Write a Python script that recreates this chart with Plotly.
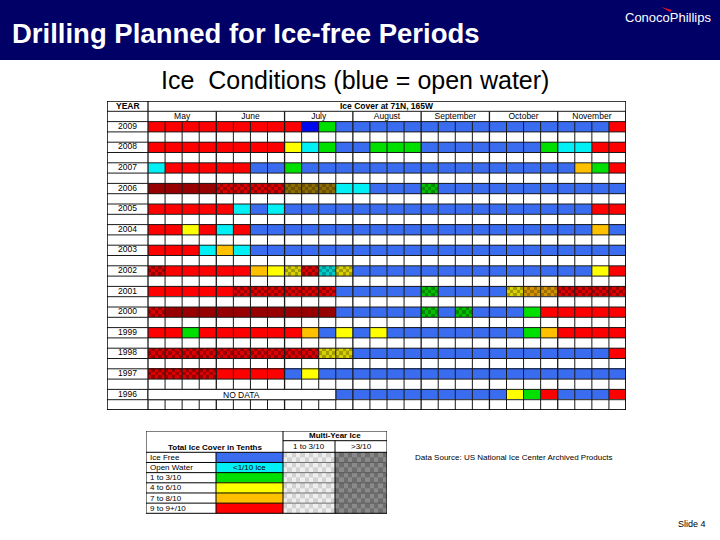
import plotly.graph_objects as go

# ---------------- data ----------------
years = ["2009", "2008", "2007", "2006", "2005", "2004", "2003",
         "2002", "2001", "2000", "1999", "1998", "1997", "1996"]
months = ["May", "June", "July", "August", "September", "October", "November"]
weeks_per_month = 4


def weeks(s):
    return s.replace("|", " ").split()


# weekly ice-cover codes, May week 1 ... November week 4 (one group per month)
cover_2009 = weeks("R R R R | R R R R | R N G B | B B B B | B B B B | B B B B | B B B R")
cover_2008 = weeks("R R R R | R R R R | Y C G B | B G G G | B B B B | B B B G | C C R R")
cover_2007 = weeks("C R R R | R R B B | G B B B | B B B B | B B B B | B B B B | B O G R")
cover_2006 = weeks("DR DR DR DR | RX RX RX RX | OXD OXD OXD C | C B B B | GX B B B | B B B B | B B B B")
cover_2005 = weeks("R R R R | R C B C | B B B B | B B B B | B B B B | B B B B | B B R R")
cover_2004 = weeks("R R Y R | C R B B | B B B B | B B B B | B B B B | B B B B | B B O B")
cover_2003 = weeks("R R R C | O C B B | B B B B | B B B B | B B B B | B B B B | B B B B")
cover_2002 = weeks("RX R R R | R R O Y | YX RX CX YX | B B B B | B B B B | B B B B | B B Y R")
cover_2001 = weeks("R R R R | R RX RX RX | RX RX RX B | B B B B | GX B B B | B YX OX OX | RX RX RX RX")
cover_2000 = weeks("RX DR DR DR | DR DR DR DR | DR DR DR B | B B B B | GX B GX B | B B G R | R R R R")
cover_1999 = weeks("R R G R | R R R R | R O B Y | B Y B B | B B B B | B B G O | R R R R")
cover_1998 = weeks("RX RX RX RX | RX RX RX RX | RX RX YX YX | B B B B | B B B B | B B B B | B B B R")
cover_1997 = weeks("RX RX RX RX | R R R R | B Y B B | B B B B | B B B B | B B B B | B B B B")
cover_1996 = weeks("ND ND ND ND | ND ND ND ND | ND ND ND B | B B B B | B B B B | B Y G R | B B B R")

cover_by_year = [cover_2009, cover_2008, cover_2007, cover_2006, cover_2005,
                 cover_2004, cover_2003, cover_2002, cover_2001, cover_2000,
                 cover_1999, cover_1998, cover_1997, cover_1996]

legend_labels = ["Ice Free", "Open Water", "1 to 3/10", "4 to 6/10", "7 to 8/10", "9 to 9+/10"]
legend_codes = ["B", "C", "G", "Y", "O", "R"]
multi_year_labels = ["1 to 3/10", ">3/10"]

# ---------------- styling ----------------
COLORS = {
    "B": ("#3a6cf0", "#3a6cf0"),
    "N": ("#0008ee", "#0008ee"),
    "C": ("#00f0f5", "#00f0f5"),
    "G": ("#00e000", "#00e000"),
    "Y": ("#ffff00", "#ffff00"),
    "O": ("#ffc000", "#ffc000"),
    "R": ("#ff0000", "#ff0000"),
    "DR": ("#960000", "#960000"),
    "RX": ("#dd0000", "#9a0000"),
    "OXD": ("#8c6c00", "#6c5200"),
    "OX": ("#d09400", "#a06e00"),
    "YX": ("#d8d000", "#a09c00"),
    "GX": ("#00c000", "#008a00"),
    "CX": ("#00cccc", "#009a9a"),
    "ND": ("#ffffff", "#ffffff"),
    "W": ("#ffffff", "#ffffff"),
    "MY1": ("#d2d2d2", "#efefef"),
    "MY2": ("#8a8a8a", "#6e6e6e"),
}
palette = []
for a, b in COLORS.values():
    for c in (a, b):
        if c not in palette:
            palette.append(c)
pidx = {c: i for i, c in enumerate(palette)}
NPAL = len(palette)
colorscale = []
for i, c in enumerate(palette):
    colorscale.append([i / NPAL, c])
    colorscale.append([(i + 1) / NPAL, c])

FONT = "Arial, 'Liberation Sans', sans-serif"
W, H = 720, 540

# ---------------- main grid heatmap ----------------
NX, NY = 5, 3
n_weeks = len(months) * weeks_per_month
n_rows = 2 * len(years)
x_edges = [k + j / NX for k in range(n_weeks) for j in range(NX)] + [n_weeks]
y_edges = [m / NY for m in range(n_rows * NY + 1)]
z = []
for fy in range(n_rows * NY):
    sub = fy // NY
    row = []
    for fx in range(n_weeks * NX):
        if sub % 2 == 1:
            c = COLORS["W"][0]
        else:
            yr = cover_by_year[sub // 2]
            code = yr[fx // NX] if fx // NX < len(yr) else "W"
            a, b = COLORS[code]
            c = a if (fx + fy) % 2 == 0 else b
        row.append(pidx[c] + 0.5)
    z.append(row)

fig = go.Figure()
fig.add_trace(go.Heatmap(x=x_edges, y=y_edges, z=z, colorscale=colorscale,
                         zmin=0, zmax=NPAL, showscale=False, hoverinfo="skip",
                         xaxis="x", yaxis="y"))

# year labels and month labels
year_col_w = 41 / (478 / n_weeks)
fig.add_trace(go.Scatter(x=[-year_col_w / 2] * len(years),
                         y=[2 * i + 0.5 for i in range(len(years))],
                         text=years, mode="text",
                         textfont=dict(family=FONT, size=8.5, color="black"),
                         hoverinfo="skip", xaxis="x", yaxis="y"))
fig.add_trace(go.Scatter(x=[weeks_per_month * m + weeks_per_month / 2 for m in range(len(months))],
                         y=[-0.45] * len(months), text=months, mode="text",
                         textfont=dict(family=FONT, size=8.5, color="black"),
                         hoverinfo="skip", xaxis="x", yaxis="y"))

# ---------------- legend heatmap ----------------
LX = [146, 216, 283, 335, 387]
LY_TOP, LY_MID, LY_BODY, LY_BOT = 431, 440.7, 452.3, 513.3
CHK = 12
cw = (LX[3] - LX[2]) / CHK
lx_edges = [LX[1]] + [LX[2] + j * cw for j in range(CHK + 1)] + [LX[3] + j * cw for j in range(1, CHK + 1)]
row_h = (LY_BOT - LY_BODY) / len(legend_codes)
ly_edges = [LY_BODY + m * row_h / 2 for m in range(2 * len(legend_codes) + 1)]
lz = []
for fy in range(2 * len(legend_codes)):
    code = legend_codes[fy // 2]
    row = [pidx[COLORS[code][0]] + 0.5]
    for fx in range(CHK):
        a, b = COLORS["MY1"]
        row.append(pidx[a if (fx + fy) % 2 == 0 else b] + 0.5)
    for fx in range(CHK):
        a, b = COLORS["MY2"]
        row.append(pidx[a if (fx + fy) % 2 == 0 else b] + 0.5)
    lz.append(row)
fig.add_trace(go.Heatmap(x=lx_edges, y=ly_edges, z=lz, colorscale=colorscale,
                         zmin=0, zmax=NPAL, showscale=False, hoverinfo="skip",
                         xaxis="x2", yaxis="y2"))

# ---------------- shapes ----------------
shapes = []
shapes.append(dict(type="rect", xref="paper", yref="paper", x0=0, x1=1,
                   y0=1 - 60 / H, y1=1, fillcolor="#000066", line=dict(width=0)))
shapes.append(dict(type="path", xref="paper", yref="paper",
                   path=f"M {661/W},{1-7/H} L {672/W},{1-10/H} L {676/W},{1-6/H} L {670/W},{1-12/H} Z",
                   fillcolor="#e0102a", line=dict(width=0)))

LINE = "#1a1a1a"
x_left = -year_col_w
for r in range(n_rows + 1):
    shapes.append(dict(type="line", xref="x", yref="y", x0=x_left, x1=n_weeks,
                       y0=r, y1=r, line=dict(color=LINE, width=1)))
shapes.append(dict(type="line", xref="x", yref="y", x0=x_left, x1=n_weeks,
                   y0=-1, y1=-1, line=dict(color=LINE, width=1)))
for k in range(n_weeks + 1):
    top = -1 if k % weeks_per_month == 0 else 0
    if k == 0:
        top = -2
    shapes.append(dict(type="line", xref="x", yref="y", x0=k, x1=k, y0=top, y1=n_rows,
                       line=dict(color=LINE, width=1.3 if k % weeks_per_month == 0 else 1)))
nd_count = cover_1996.count("ND")
nd_row = 2 * years.index("1996")
shapes.append(dict(type="rect", xref="x", yref="y", x0=0, x1=nd_count, y0=nd_row, y1=nd_row + 1,
                   fillcolor="white", line=dict(color=LINE, width=1)))
shapes.append(dict(type="rect", xref="x", yref="y", x0=x_left, x1=n_weeks, y0=-2, y1=n_rows,
                   line=dict(color="black", width=1.5)))

L = dict(color="black", width=1)
shapes.append(dict(type="rect", xref="x2", yref="y2", x0=LX[0], x1=LX[4], y0=LY_TOP, y1=LY_BOT, line=L))
shapes.append(dict(type="line", xref="x2", yref="y2", x0=LX[2], x1=LX[4], y0=LY_MID, y1=LY_MID, line=L))
shapes.append(dict(type="line", xref="x2", yref="y2", x0=LX[0], x1=LX[4], y0=LY_BODY, y1=LY_BODY, line=L))
for r in range(1, len(legend_codes)):
    yy = LY_BODY + r * row_h
    shapes.append(dict(type="line", xref="x2", yref="y2", x0=LX[0], x1=LX[2], y0=yy, y1=yy, line=L))
    shapes.append(dict(type="line", xref="x2", yref="y2", x0=LX[2], x1=LX[4], y0=yy, y1=yy,
                       line=dict(color="#555555", width=0.8)))
shapes.append(dict(type="line", xref="x2", yref="y2", x0=LX[1], x1=LX[1], y0=LY_BODY, y1=LY_BOT, line=L))
shapes.append(dict(type="line", xref="x2", yref="y2", x0=LX[2], x1=LX[2], y0=LY_TOP, y1=LY_BOT, line=L))
shapes.append(dict(type="line", xref="x2", yref="y2", x0=LX[3], x1=LX[3], y0=LY_MID, y1=LY_BOT, line=L))

# ---------------- annotations ----------------
ann = []
ann.append(dict(text="<b>Drilling Planned for Ice-free Periods</b>", xref="paper", yref="paper",
                x=10 / W, y=1 - 33 / H, xanchor="left", yanchor="middle", showarrow=False,
                font=dict(family=FONT, size=27.5, color="white")))
ann.append(dict(text="ConocoPhillips", xref="paper", yref="paper",
                x=668 / W, y=1 - 18 / H, xanchor="center", yanchor="middle", showarrow=False,
                font=dict(family=FONT, size=13, color="white")))
ann.append(dict(text="Ice  Conditions (blue = open water)", xref="paper", yref="paper",
                x=355 / W, y=1 - 80 / H, xanchor="center", yanchor="middle", showarrow=False,
                font=dict(family=FONT, size=25, color="black")))
ann.append(dict(text="<b>YEAR</b>", xref="x", yref="y", x=-year_col_w / 2, y=-1.5,
                showarrow=False, font=dict(family=FONT, size=8.5, color="black")))
ann.append(dict(text="<b>Ice Cover at 71N, 165W</b>", xref="x", yref="y", x=n_weeks / 2, y=-1.5,
                showarrow=False, font=dict(family=FONT, size=8.5, color="black")))
ann.append(dict(text="NO DATA", xref="x", yref="y", x=nd_count / 2, y=nd_row + 0.5,
                showarrow=False, font=dict(family=FONT, size=8.5, color="black")))
ann.append(dict(text="<b>Total Ice Cover in Tenths</b>", xref="x2", yref="y2",
                x=(LX[0] + LX[2]) / 2, y=(LY_MID + LY_BODY) / 2 + 0.5, showarrow=False,
                font=dict(family=FONT, size=8, color="black")))
ann.append(dict(text="<b>Multi-Year Ice</b>", xref="x2", yref="y2",
                x=(LX[2] + LX[4]) / 2, y=(LY_TOP + LY_MID) / 2, showarrow=False,
                font=dict(family=FONT, size=8, color="black")))
for j, lab in enumerate(multi_year_labels):
    ann.append(dict(text=lab, xref="x2", yref="y2", x=(LX[2 + j] + LX[3 + j]) / 2,
                    y=(LY_MID + LY_BODY) / 2, showarrow=False,
                    font=dict(family=FONT, size=8, color="black")))
for r, lab in enumerate(legend_labels):
    ann.append(dict(text=lab, xref="x2", yref="y2", x=LX[0] + 2, y=LY_BODY + (r + 0.5) * row_h,
                    xanchor="left", showarrow=False, font=dict(family=FONT, size=8, color="black")))
ann.append(dict(text="<1/10 ice", xref="x2", yref="y2", x=(LX[1] + LX[2]) / 2,
                y=LY_BODY + 1.5 * row_h, showarrow=False, font=dict(family=FONT, size=8, color="black")))
ann.append(dict(text="Data Source: US National Ice Center Archived Products", xref="paper", yref="paper",
                x=413 / W, y=1 - 457 / H, xanchor="left", yanchor="middle", showarrow=False,
                font=dict(family=FONT, size=8, color="black")))
ann.append(dict(text="Slide 4", xref="paper", yref="paper", x=708 / W, y=1 - 524 / H,
                xanchor="right", yanchor="middle", showarrow=False,
                font=dict(family=FONT, size=9, color="black")))

ax_common = dict(visible=False, showgrid=False, zeroline=False, fixedrange=True)
fig.update_layout(
    width=W, height=H, margin=dict(l=0, r=0, t=0, b=0),
    paper_bgcolor="white", plot_bgcolor="white", showlegend=False,
    xaxis=dict(domain=[107 / W, 626 / W], range=[-year_col_w, n_weeks], **ax_common),
    yaxis=dict(domain=[1 - 410 / H, 1 - 101 / H], range=[n_rows, -2], **ax_common),
    xaxis2=dict(domain=[146 / W, 387 / W], range=[146, 387], anchor="y2", **ax_common),
    yaxis2=dict(domain=[1 - 514 / H, 1 - 431 / H], range=[514, 431], anchor="x2", **ax_common),
    shapes=shapes, annotations=ann,
)
fig.write_html("out.html", config={"displayModeBar": False},
               post_script="document.body.style.margin='0';document.body.style.overflow='hidden';")
